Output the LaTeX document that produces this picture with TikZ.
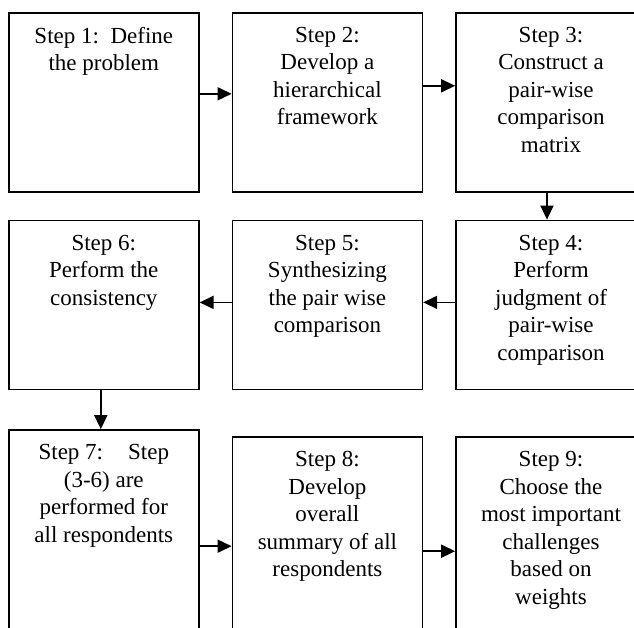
\documentclass[tikz,border=0pt]{standalone}
\usepackage{fontspec}
\setmainfont{Liberation Serif}
\usetikzlibrary{arrows.meta, positioning}

\begin{document}
\begin{tikzpicture}[
    x=1pt, y=1pt,
    node distance=27pt and 32pt,
    stepbox/.style={rectangle, draw, line width=1.6pt, minimum width=190pt, inner sep=0pt},
    steptext/.style={align=center, inner sep=0pt, font=\fontsize{23pt}{27.5pt}\selectfont},
    arrow/.style={-{Triangle[length=14pt, width=13pt]}, line width=1.6pt}
]

% Page
\useasboundingbox (0,0) rectangle (634,-628);
\clip (0,0) rectangle (634,-628);

% Row 1
\node[stepbox, minimum height=179pt, anchor=north west] (s1) at (8,-12) {};
\node[stepbox, minimum height=179pt, right=of s1] (s2) {};
\node[stepbox, minimum height=179pt, right=of s2] (s3) {};

% Row 2
\node[stepbox, minimum height=169pt, below=of s1] (s6) {};
\node[stepbox, minimum height=169pt, right=of s6] (s5) {};
\node[stepbox, minimum height=169pt, right=of s5] (s4) {};

% Row 3
\node[stepbox, minimum height=230pt, below=39pt of s6] (s7) {};
\node[stepbox, minimum height=230pt, below right=7pt and 32pt of s7.north east] (s8) {};
\node[stepbox, minimum height=230pt, right=of s8] (s9) {};

% Texts
\node[steptext, below=15pt of s1.north] (t1) {Step 1:\ \ Define\\the problem};
\node[steptext, below=15pt of s2.north] (t2) {Step 2:\\Develop a\\hierarchical\\framework};
\node[steptext, below=15pt of s3.north] (t3) {Step 3:\\Construct a\\pair-wise\\comparison\\matrix};
\node[steptext, below=15pt of s4.north] (t4) {Step 4:\\Perform\\judgment of\\pair-wise\\comparison};
\node[steptext, below=15pt of s5.north] (t5) {Step 5:\\Synthesizing\\the pair wise\\comparison};
\node[steptext, below=15pt of s6.north] (t6) {Step 6:\\Perform the\\consistency};
\node[steptext, below=15pt of s7.north] (t7) {Step 7:\hspace{25pt}Step\\(3-6) are\\performed for\\all respondents};
\node[steptext, below=15pt of s8.north] (t8) {Step 8:\\Develop\\overall\\summary of all\\respondents};
\node[steptext, below=15pt of s9.north] (t9) {Step 9:\\Choose the\\most important\\challenges\\based on\\weights};

% Arrows
\draw[arrow] ([yshift=8.5pt]s1.east) -- ([yshift=8.5pt]s2.west);
\draw[arrow] ([yshift=16.5pt]s2.east) -- ([yshift=16.5pt]s3.west);
\draw[arrow] ([xshift=-4pt]s3.south) -- ([xshift=-4pt]s4.north);
\draw[arrow] ([yshift=2.5pt]s4.west) -- ([yshift=2.5pt]s5.east);
\draw[arrow] ([yshift=2.5pt]s5.west) -- ([yshift=2.5pt]s6.east);
\draw[arrow] ([xshift=-3pt]s6.south) -- ([xshift=-3pt]s7.north);
\draw[arrow] ([yshift=-117pt]s7.north east) -- ([yshift=-110pt]s8.north west);
\draw[arrow] ([yshift=-115pt]s8.north east) -- ([yshift=-115pt]s9.north west);

\end{tikzpicture}
\end{document}
